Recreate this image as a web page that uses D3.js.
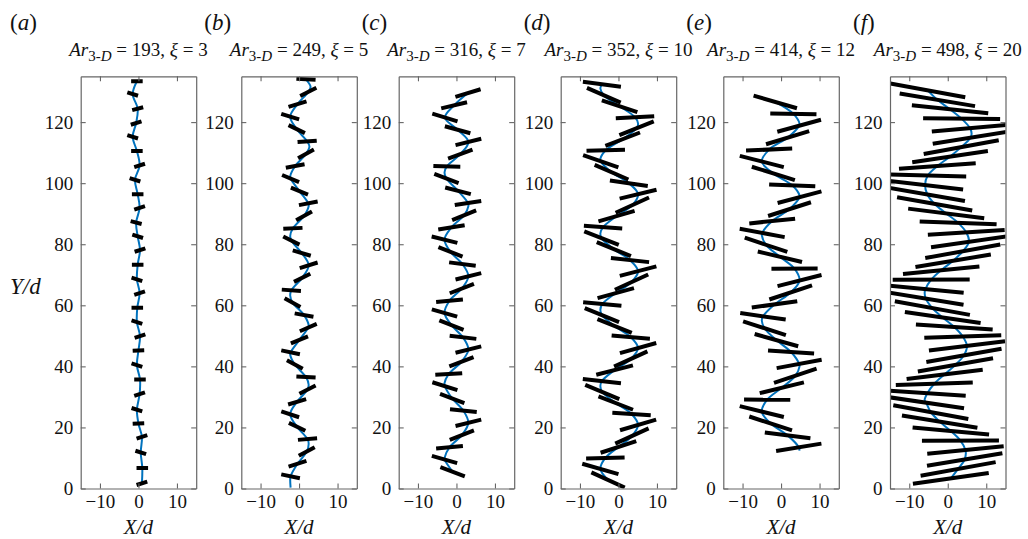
<!DOCTYPE html>
<html>
<head>
<meta charset="utf-8">
<script src="https://cdn.jsdelivr.net/npm/d3@7"></script>
<style>
  html, body { margin: 0; padding: 0; background: #fff; }
  svg { display: block; }
  svg text { font-family: "Liberation Serif", "Times New Roman", Times, serif; }
</style>
</head>
<body>
<svg id="fig" width="1028" height="539"></svg>
<script>
// ---- panel descriptors ----
const letters   = ["a", "b", "c", "d", "e", "f"];
const arValues  = [193, 249, 316, 352, 414, 498];
const xiValues  = [3, 5, 7, 10, 12, 20];          // rod aspect ratio = rod length in units of d
const xTickValues = [-10, 0, 10];
const yTickValues = [0, 20, 40, 60, 80, 100, 120];
const xDomain = [-15, 15];
const yDomain = [0, 135];

// ---- rod snapshots: centre height Y/d, centre X/d, inclination (deg) ----
const rodA_Y = [1.7, 6.7, 11.8, 16.9, 21.3, 25.8, 30.9, 35.7, 40.4, 45.2, 49.9, 54.5, 59.2, 64.0, 68.5, 73.3, 78.1, 82.6, 87.1, 91.9, 96.4, 101.1, 105.8, 110.5, 115.2, 119.7, 124.4, 129.2, 133.4];
const rodA_X = [0.9, 1.0, 0.6, 0.9, 0.0, -0.4, 0.3, 0.4, -0.4, 0.0, 0.4, -0.4, -0.3, 0.3, -0.4, -0.2, 0.4, -0.2, -0.6, 0.3, -0.2, -0.9, 0.3, -0.4, -1.5, -0.6, -0.2, -1.5, -0.4];
const rodA_Angle = [22, 0, -22, 22, 3, -22, 22, 0, -22, 3, 22, -22, 0, 22, -22, 0, 22, -22, -18, 22, 0, -22, 22, 0, -22, 22, 18, -22, 0];

const rodB_Y = [4.0, 8.1, 12.1, 16.2, 20.2, 24.3, 28.4, 32.4, 36.5, 40.6, 44.6, 48.7, 52.7, 56.8, 60.9, 64.9, 69.0, 73.1, 77.1, 81.2, 85.2, 89.3, 93.4, 97.4, 101.5, 105.6, 109.6, 113.7, 117.7, 121.8, 125.9, 129.9, 134.0];
const rodB_X = [-2.2, -0.4, 2.0, 2.2, -0.5, -2.3, -0.5, 2.2, 1.8, -1.1, -2.2, 0.1, 2.4, 1.3, -1.7, -2.0, 0.8, 2.5, 0.7, -2.0, -1.6, 1.3, 2.4, 0.1, -2.2, -1.0, 1.8, 2.1, -0.6, -2.3, -0.4, 2.4, 1.8];
const rodB_Angle = [-14.5, 22.1, 34.3, 6.3, -31.4, -22.5, 20.6, 32.8, -3.6, -34.6, -14.9, 27.2, 28.6, -12.7, -34.7, -5.4, 32.1, 21.6, -20.6, -32.4, 3.6, 34.6, 13.8, -27.2, -28.0, 13.3, 34.8, 5.2, -31.9, -21.6, 21.1, 32.8, -3.8];

const rodC_Y = [5.5, 9.5, 13.5, 17.5, 21.5, 25.5, 29.5, 33.5, 37.5, 41.5, 45.5, 49.5, 53.5, 57.5, 61.5, 65.5, 69.5, 73.5, 77.5, 81.5, 85.5, 89.5, 93.5, 97.5, 101.5, 105.5, 109.5, 113.5, 117.5, 121.5, 125.5, 129.5];
const rodC_X = [-1.0, -3.1, -1.8, 1.4, 3.1, 1.8, -1.1, -3.0, -2.0, 1.3, 3.1, 1.7, -1.3, -3.1, -1.8, 1.4, 3.1, 1.55, -1.55, -3.1, -1.3, 2.0, 3.0, 0.4, -2.6, -2.5, 1.0, 3.1, 0.3, -3.0, -0.6, 3.0];
const rodC_Angle = [-25.3, -20.0, 6.9, 26.3, 17.4, -7.2, -25.5, -21.8, 4.3, 26.0, 17.4, -8.2, -26.1, -19.8, 6.9, 26.3, 17.4, -9.2, -26.6, -17.4, 11.6, 27.0, 10.8, -18.0, -25.8, -1.9, 25.0, 17.4, -19.0, -20.9, 16.9, 21.0];

const rodD_Y = [2.8, 6.4, 10.0, 13.6, 17.2, 20.8, 24.4, 28.0, 31.6, 35.2, 38.8, 42.4, 46.0, 49.6, 53.2, 56.8, 60.4, 64.0, 67.6, 71.2, 74.8, 78.4, 82.0, 85.6, 89.2, 92.8, 96.4, 100.0, 103.6, 107.2, 110.8, 114.4, 118.0, 121.6, 125.2, 128.8, 132.4];
const rodD_X = [-2.7, -4.7, -3.4, 0.0, 3.5, 5.1, 3.4, -0.7, -4.2, -4.3, -1.0, 3.2, 5.1, 3.2, -1.0, -4.3, -4.2, -0.7, 3.4, 5.1, 3.0, -1.2, -4.4, -4.0, -0.5, 3.6, 5.1, 2.7, -1.8, -4.6, -3.3, 1.1, 4.7, 4.3, 0.3, -3.8, -4.3];
const rodD_Angle = [-30.0, -19.8, 1.8, 22.3, 30.0, 20.3, -4.7, -26.2, -27.7, -8.0, 17.8, 30.0, 19.3, -6.1, -26.9, -27.1, -6.5, 19.0, 30.0, 18.1, -7.6, -27.5, -26.4, -5.1, 20.1, 29.9, 16.8, -10.3, -28.8, -23.6, 2.0, 26.0, 26.8, 3.7, -22.7, -28.9, -9.3];

const rodE_Y = [13.5, 17.4, 21.3, 25.2, 29.1, 33.0, 36.9, 40.8, 44.7, 48.6, 52.5, 56.4, 60.3, 64.2, 68.1, 72.0, 75.9, 79.8, 83.7, 87.6, 91.5, 95.4, 99.3, 103.2, 107.1, 111.0, 114.9, 118.8, 122.7, 126.6];
const rodE_X = [4.6, 1.7, -2.7, -5.0, -3.6, 0.2, 3.7, 4.7, 2.6, -1.2, -4.3, -4.7, -1.7, 2.5, 4.8, 3.5, -0.3, -3.9, -4.9, -2.3, 2.2, 4.8, 2.9, -2.0, -5.0, -3.1, 1.7, 4.7, 3.2, -1.5];
const rodE_Angle = [11.5, -9.2, -22.4, -17.4, -0.1, 17.1, 22.9, 13.3, -4.5, -19.5, -22.2, -10.2, 10.0, 22.5, 17.7, 0.6, -16.8, -22.9, -13.3, 7.4, 22.0, 18.4, -2.7, -21.3, -17.9, 3.0, 21.0, 19.0, -1.2, -20.2];

const rodF_Y = [3.3, 6.4, 9.5, 12.6, 15.7, 18.8, 21.9, 25.0, 28.1, 31.2, 34.3, 37.4, 40.5, 43.6, 46.7, 49.8, 52.9, 56.0, 59.1, 62.2, 65.3, 68.4, 71.5, 74.6, 77.7, 80.8, 83.9, 87.0, 90.1, 93.2, 96.3, 99.4, 102.5, 105.6, 108.7, 111.8, 114.9, 118.0, 121.1, 124.2, 127.3, 130.4];
const rodF_X = [0.8, 2.7, 4.4, 4.6, 3.3, 0.8, -2.1, -4.4, -5.6, -5.3, -3.5, -0.8, 2.0, 4.2, 5.0, 3.9, 1.7, -1.3, -4.0, -5.7, -5.8, -4.3, -1.7, 1.4, 3.9, 5.5, 4.8, 2.7, -0.4, -3.4, -5.3, -5.9, -5.2, -2.7, 0.6, 3.5, 5.9, 5.8, 3.6, 0.6, -2.7, -5.2];
const rodF_Angle = [10.1, 12.9, 11.8, 7.1, 0.3, -6.6, -11.5, -13.0, -10.5, -4.8, 2.3, 8.7, 12.5, 12.5, 8.8, 2.4, -4.7, -10.4, -12.9, -11.6, -6.7, 0.2, 7.0, 11.7, 12.9, 10.2, 4.4, -2.7, -9.0, -12.6, -12.4, -8.4, -1.9, 5.2, 10.7, 13.0, 11.4, 6.3, -0.7, -7.4, -11.9, -12.9];

// ---- extra trajectory points (turning points / start) between snapshots ----
const turnA_Y = [];
const turnA_X = [];
const turnB_Y = [0.3, 3.0, 14.6, 34.0, 43.8, 53.5, 63.2, 82.7, 92.5, 102.2, 112.0, 131.5];
const turnB_X = [-2.2, -2.3, 2.5, 2.5, -2.3, 2.5, -2.3, -2.3, 2.5, -2.3, 2.7, 3.0];
const turnC_Y = [10.0, 34.5, 92.5, 103.5];
const turnC_X = [-3.1, -3.1, 3.1, -3.1];
const turnD_Y = [33.5, 58.5, 83.5, 108.0, 119.5, 131.0];
const turnD_X = [-4.7, -4.7, -4.7, -4.7, 5.1, -4.7];
const turnE_Y = [12.4, 40.0, 55.0, 83.0, 96.0, 119.5];
const turnE_X = [4.8, 4.8, -5.0, -5.0, 4.8, 4.8];
const turnF_Y = [11.5, 29.0, 64.0, 116.2];
const turnF_X = [4.7, -6.0, -6.0, 6.2];

const panels = [
  { rodY: rodA_Y, rodX: rodA_X, rodAngle: rodA_Angle, turnY: turnA_Y, turnX: turnA_X },
  { rodY: rodB_Y, rodX: rodB_X, rodAngle: rodB_Angle, turnY: turnB_Y, turnX: turnB_X },
  { rodY: rodC_Y, rodX: rodC_X, rodAngle: rodC_Angle, turnY: turnC_Y, turnX: turnC_X },
  { rodY: rodD_Y, rodX: rodD_X, rodAngle: rodD_Angle, turnY: turnD_Y, turnX: turnD_X },
  { rodY: rodE_Y, rodX: rodE_X, rodAngle: rodE_Angle, turnY: turnE_Y, turnX: turnE_X },
  { rodY: rodF_Y, rodX: rodF_X, rodAngle: rodF_Angle, turnY: turnF_Y, turnX: turnF_X }
];

// ---- layout ----
const FONT = '"Liberation Serif", "Times New Roman", Times, serif';
const plotW = 115.5, plotTop = 76.3, plotBottom = 488.5;
const panelLeft = [80.7, 241.3, 398.7, 560.7, 723.3, 890.0];
const frameColor = "#666";
const trajColor = "#0072BD";

const svg = d3.select("#fig").style("font-family", FONT);
const defs = svg.append("defs");

panels.forEach((p, i) => {
  const x0 = panelLeft[i];
  const x = d3.scaleLinear().domain(xDomain).range([x0, x0 + plotW]);
  const y = d3.scaleLinear().domain(yDomain).range([plotBottom, plotTop]);
  const g = svg.append("g").attr("class", "panel-" + letters[i]);

  const clipId = "clip-" + letters[i];
  defs.append("clipPath").attr("id", clipId)
    .append("rect")
    .attr("x", x0).attr("y", plotTop)
    .attr("width", plotW).attr("height", plotBottom - plotTop);

  const plot = g.append("g").attr("clip-path", `url(#${clipId})`);

  // trajectory through snapshot centres and turning points
  const pts = p.rodY.map((v, k) => [v, p.rodX[k]])
    .concat(p.turnY.map((v, k) => [v, p.turnX[k]]))
    .sort((a, b) => a[0] - b[0]);
  plot.append("path")
    .datum(pts)
    .attr("d", d3.line()
      .x(d => x(d[1]))
      .y(d => y(d[0]))
      .curve(d3.curveCatmullRom.alpha(0.5)))
    .attr("fill", "none")
    .attr("stroke", trajColor)
    .attr("stroke-width", 2);

  // rods of length xi, centred on the trajectory
  const half = xiValues[i] / 2;
  const rods = p.rodY.map((v, k) => {
    const a = p.rodAngle[k] * Math.PI / 180;
    return { yc: v, xc: p.rodX[k], dx: half * Math.cos(a), dy: half * Math.sin(a) };
  });
  plot.selectAll("line.rod")
    .data(rods)
    .join("line")
    .attr("class", "rod")
    .attr("x1", d => x(d.xc - d.dx))
    .attr("y1", d => y(d.yc - d.dy))
    .attr("x2", d => x(d.xc + d.dx))
    .attr("y2", d => y(d.yc + d.dy))
    .attr("stroke", "#000")
    .attr("stroke-width", 4)
    .attr("stroke-linecap", "butt");

  // axes: inward ticks on all four sides
  const styleAxis = sel => {
    sel.attr("font-family", null).attr("font-size", 19).attr("color", frameColor);
    sel.selectAll("path.domain").attr("stroke-width", 1.2);
    sel.selectAll(".tick line").attr("stroke-width", 1.1);
    sel.selectAll(".tick text").attr("fill", "#111");
  };
  g.append("g").attr("transform", `translate(0,${plotBottom})`)
    .call(d3.axisBottom(x).tickValues(xTickValues).tickSizeInner(-5).tickSizeOuter(0).tickPadding(6))
    .call(styleAxis);
  g.append("g").attr("transform", `translate(0,${plotTop})`)
    .call(d3.axisTop(x).tickValues(xTickValues).tickSizeInner(-5).tickSizeOuter(0).tickFormat(() => ""))
    .call(styleAxis);
  g.append("g").attr("transform", `translate(${x0},0)`)
    .call(d3.axisLeft(y).tickValues(yTickValues).tickSizeInner(-5).tickSizeOuter(0).tickPadding(7.5))
    .call(styleAxis)
    .selectAll(".tick text").attr("dy", "0.34em");
  g.append("g").attr("transform", `translate(${x0 + plotW},0)`)
    .call(d3.axisRight(y).tickValues(yTickValues).tickSizeInner(-5).tickSizeOuter(0).tickFormat(() => ""))
    .call(styleAxis);

  // x-axis label
  g.append("text")
    .attr("x", x0 + plotW / 2).attr("y", 534)
    .attr("text-anchor", "middle")
    .attr("font-size", 21).attr("font-style", "italic").attr("fill", "#111")
    .text("X/d");

  // title: Ar_{3-D} = ..., xi = ...
  const t = g.append("text")
    .attr("x", x0 + plotW / 2).attr("y", 56)
    .attr("text-anchor", "middle")
    .attr("font-size", 19).attr("fill", "#111");
  t.append("tspan").attr("font-style", "italic").text("Ar");
  t.append("tspan").attr("font-size", 15).attr("dy", 5).text("3-");
  t.append("tspan").attr("font-size", 15).attr("font-style", "italic").text("D");
  t.append("tspan").attr("dy", -5).text(` = ${arValues[i]}, `);
  t.append("tspan").attr("font-style", "italic").text("ξ");
  t.append("tspan").text(` = ${xiValues[i]}`);

  // panel letter
  const lx = i === 0 ? 10 : x0 - 37;
  const lt = g.append("text")
    .attr("x", lx).attr("y", 30)
    .attr("font-size", 23).attr("fill", "#111");
  lt.append("tspan").text("(");
  lt.append("tspan").attr("font-style", "italic").text(letters[i]);
  lt.append("tspan").text(")");
});

// y-axis label (first panel only)
svg.append("text")
  .attr("x", 10).attr("y", 294)
  .attr("font-size", 23).attr("font-style", "italic").attr("fill", "#111")
  .text("Y/d");
</script>
</body>
</html>
